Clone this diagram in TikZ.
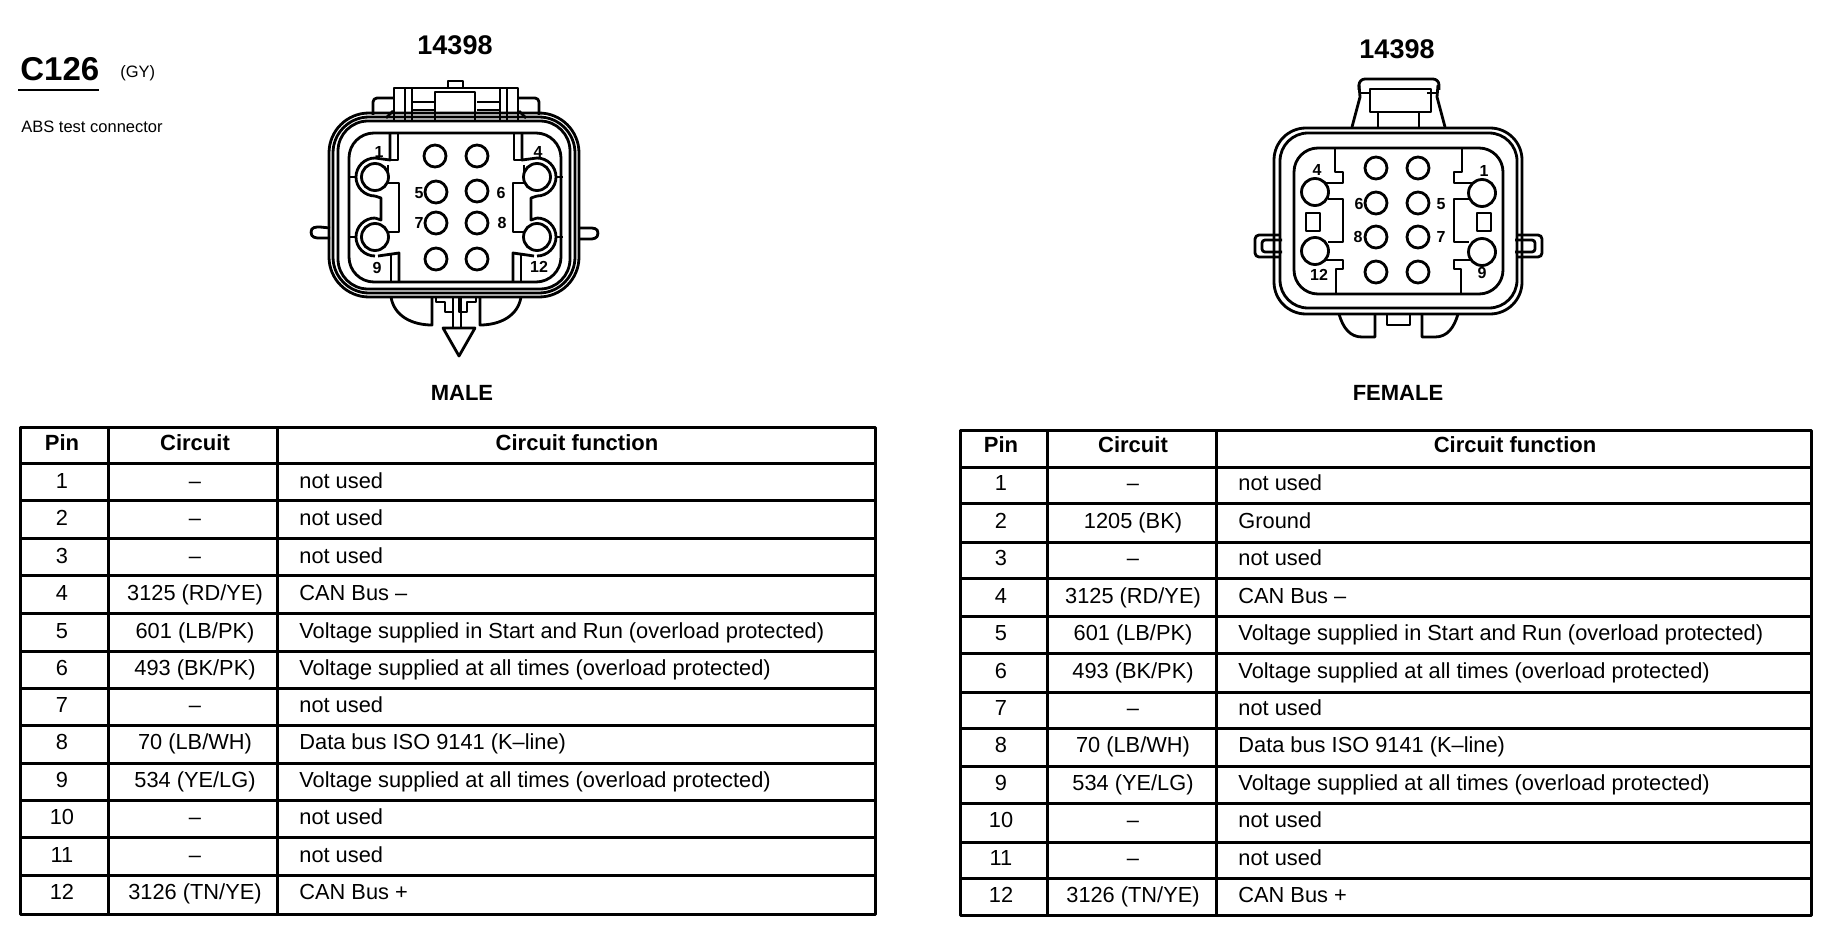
\documentclass[tikz,border=0pt]{standalone}
\usepackage{fontspec}
\setmainfont{Liberation Sans}

\newcommand{\tablerow}[6]{%
    \node[pincell] (#1p#2) at (#3) {#2};
    \node[circuitcell] (#1c#2) at (#4) {#5};
    \node[functioncell] (#1f#2) at (#6) {\rowtext};
}

% one half of each housing, the other half comes from the mirror
\newcommand{\maleshell}{%
    \draw (390,134) -- (390,160) -- (375,158);
    \draw (398,134) -- (398,160) -- (390,160);
    \draw (375,158) arc (-90:-270:19);
    \draw (349,177) -- (356,177);
    \draw (349,237) -- (356,237);
    \draw (388,165) -- (388,183) -- (399,183) -- (399,232) -- (388,232);
    \draw (375,196) -- (381,198) -- (381,220) -- (375,218);
    \draw (375,218) arc (-90:-270:19);
    \draw (378,256) -- (399,253) -- (399,281);
    \draw (391,253) -- (391,281);
    \draw[rounded corners=4pt] (373,115) -- (373,98) -- (394,98);
    \draw (393,111) -- (386,118);
    \draw (405,88) -- (405,120);
    \draw (412,88) -- (412,120);
    \draw (412,102) -- (435,102);
    \draw (412,110) -- (435,110);
    \draw (412,117) -- (435,117);
    \draw (391,297) .. controls (394,316) and (412,325) .. (432,325) -- (432,298);
    \draw (436,297) -- (436,302) -- (445,302) -- (445,312) -- (453,312) -- (453,297);
}
\newcommand{\femaleshell}{%
    \draw (1335,148) -- (1335,172) -- (1343,172) -- (1343,183) -- (1323,183);
    \draw (1328,199) -- (1343,199) -- (1343,242) -- (1328,242);
    \draw (1323,260) -- (1343,260) -- (1343,269) -- (1336,269) -- (1336,293);
    \draw (1352,127) -- (1360,97) -- (1359,85);
    \draw (1360,93) -- (1370,93);
    \draw (1378,112) -- (1378,127);
    \draw[rounded corners=4pt] (1280,235) -- (1255,235) -- (1255,257) -- (1280,257);
    \draw[rounded corners=3pt] (1282,240) -- (1262,240) -- (1262,252) -- (1282,252);
    \draw (1339,314) .. controls (1343,328) and (1350,337) .. (1362,337) -- (1375,337) -- (1375,315);
}

\begin{document}
\begin{tikzpicture}[x=1pt, y=-1pt, line width=2.8pt, line join=round]
    \tikzset{
        pincell/.style={font=\fontsize{21.8}{21.8}\selectfont, text height=15pt, text depth=0pt, inner sep=0pt},
        circuitcell/.style={pincell},
        functioncell/.style={pincell, anchor=west},
        headcell/.style={pincell, font=\fontsize{22}{22}\selectfont\bfseries},
        title/.style={font=\fontsize{27}{27}\selectfont\bfseries, inner sep=0pt},
        sidelabel/.style={font=\fontsize{22}{22}\selectfont\bfseries, inner sep=0pt},
        pinnum/.style={font=\fontsize{16}{16}\selectfont\bfseries, inner sep=0pt},
        smallpin/.style={circle, draw, minimum size=22pt, inner sep=0pt},
        bigpin/.style={circle, draw, fill=white, minimum size=27pt, inner sep=0pt},
        rowline/.style={line width=3pt}
    }
    \useasboundingbox (0,0) rectangle (1830,928);

    % heading
    \node[font=\fontsize{33}{33}\selectfont\bfseries, inner sep=0pt, anchor=west] (code) at (19,69) {C126};
    \node[font=\fontsize{16.5}{16.5}\selectfont, inner sep=0pt, anchor=west] (colour) at (119,73) {(GY)};
    \node[font=\fontsize{16.5}{16.5}\selectfont, inner sep=0pt, anchor=west] (name) at (20,127) {ABS test connector};
    \draw (18,90) -- (99,90);

    \node[title] (maleno) at (455,45) {14398};
    \node[title] (femaleno) at (1397,49) {14398};
    \node[sidelabel] (malelabel) at (462,393) {MALE};
    \node[sidelabel] (femalelabel) at (1398,393) {FEMALE};

    % male housing
    \draw[rounded corners=40pt] (329,113) rectangle (579,297);
    \draw[rounded corners=36pt] (333,117) rectangle (575,293);
    \draw[rounded corners=30pt] (338,121) rectangle (570,289);
    \draw[rounded corners=25pt] (349,133) rectangle (561,282);
    \maleshell
    \begin{scope}[xshift=912pt, xscale=-1]
        \maleshell
    \end{scope}
    \draw (394,120) -- (394,88) -- (518,88) -- (518,120);
    \draw (435,120) -- (435,92) -- (475,92) -- (475,120);
    \draw (448,88) -- (448,81) -- (463,81) -- (463,88);
    \draw (311,232) .. controls (311,227) and (316,227) .. (320,227) -- (330,228);
    \draw (311,232) .. controls (311,238) and (316,238) .. (320,238) -- (330,238);
    \draw (598,233) .. controls (598,228) and (593,228) .. (589,228) -- (578,228);
    \draw (598,233) .. controls (598,239) and (593,239) .. (589,239) -- (578,239);
    \draw (461,297) -- (461,327);
    \draw (443,328) -- (475,328) -- (459,356) -- cycle;
    \draw (453,312) -- (453,328);

    \node[smallpin] (mpa) at (435,156) {};
    \node[smallpin] (mpb) at (477,156) {};
    \node[smallpin] (mpc) at (436,192) {};
    \node[smallpin] (mpd) at (477,191) {};
    \node[smallpin] (mpe) at (436,223) {};
    \node[smallpin] (mpf) at (477,223) {};
    \node[smallpin] (mpg) at (436,259) {};
    \node[smallpin] (mph) at (477,259) {};
    \node[bigpin] (mpi) at (375,177) {};
    \node[bigpin] (mpj) at (375,237) {};
    \node[bigpin] (mpk) at (537,177) {};
    \node[bigpin] (mpl) at (537,237) {};
    \node[pinnum] (mn1) at (379,152) {1};
    \node[pinnum] (mn4) at (538,152) {4};
    \node[pinnum] (mn5) at (419,193) {5};
    \node[pinnum] (mn6) at (501,193) {6};
    \node[pinnum] (mn7) at (419,223) {7};
    \node[pinnum] (mn8) at (502,223) {8};
    \node[pinnum] (mn9) at (377,268) {9};
    \node[pinnum] (mn12) at (539,267) {12};

    % female housing
    \draw[rounded corners=32pt] (1274,128) rectangle (1522,314);
    \draw[rounded corners=28pt] (1280,133) rectangle (1517,308);
    \draw[rounded corners=24pt] (1294,148) rectangle (1503,294);
    \femaleshell
    \begin{scope}[xshift=2797pt, xscale=-1]
        \femaleshell
    \end{scope}
    \draw[rounded corners=6pt] (1359,90) -- (1359,79) -- (1439,79) -- (1439,90);
    \draw (1370,89) rectangle (1431,112);
    \draw (1387,315) -- (1387,325) -- (1410,325) -- (1410,315);
    \draw (1306,213) rectangle (1320,231);
    \draw (1477,213) rectangle (1491,231);

    \node[smallpin] (fpa) at (1376,168) {};
    \node[smallpin] (fpb) at (1418,168) {};
    \node[smallpin] (fpc) at (1376,203) {};
    \node[smallpin] (fpd) at (1418,203) {};
    \node[smallpin] (fpe) at (1376,237) {};
    \node[smallpin] (fpf) at (1418,237) {};
    \node[smallpin] (fpg) at (1376,272) {};
    \node[smallpin] (fph) at (1418,272) {};
    \node[bigpin] (fpi) at (1315,192) {};
    \node[bigpin] (fpj) at (1315,251) {};
    \node[bigpin] (fpk) at (1482,193) {};
    \node[bigpin] (fpl) at (1482,252) {};
    \node[pinnum] (fn4) at (1317,170) {4};
    \node[pinnum] (fn1) at (1484,171) {1};
    \node[pinnum] (fn6) at (1359,204) {6};
    \node[pinnum] (fn5) at (1441,204) {5};
    \node[pinnum] (fn8) at (1358,237) {8};
    \node[pinnum] (fn7) at (1441,237) {7};
    \node[pinnum] (fn12) at (1319,275) {12};
    \node[pinnum] (fn9) at (1482,273) {9};

    % male table
    \draw[rowline] (20,427) rectangle (875,914);
    \draw[rowline] (108,427) -- (108,914);
    \draw[rowline] (277,427) -- (277,914);
    \foreach \yrow in {463,500,538,575,613,651,688,725,763,800,837,875}
        \draw[rowline] (20,\yrow) -- (875,\yrow);
    \node[headcell] (mh1) at (62,443) {Pin};
    \node[headcell] (mh2) at (195,443) {Circuit};
    \node[headcell] (mh3) at (577,443) {Circuit function};

    \def\rowtext{not used}
    \tablerow{m}{1}{62,481}{195,481}{--}{298,481}
    \tablerow{m}{2}{62,518}{195,518}{--}{298,518}
    \tablerow{m}{3}{62,556}{195,556}{--}{298,556}
    \def\rowtext{CAN Bus --}
    \tablerow{m}{4}{62,593}{195,593}{3125 (RD/YE)}{298,593}
    \def\rowtext{Voltage supplied in Start and Run (overload protected)}
    \tablerow{m}{5}{62,631}{195,631}{601 (LB/PK)}{298,631}
    \def\rowtext{Voltage supplied at all times (overload protected)}
    \tablerow{m}{6}{62,668}{195,668}{493 (BK/PK)}{298,668}
    \def\rowtext{not used}
    \tablerow{m}{7}{62,705}{195,705}{--}{298,705}
    \def\rowtext{Data bus ISO 9141 (K--line)}
    \tablerow{m}{8}{62,742}{195,742}{70 (LB/WH)}{298,742}
    \def\rowtext{Voltage supplied at all times (overload protected)}
    \tablerow{m}{9}{62,780}{195,780}{534 (YE/LG)}{298,780}
    \def\rowtext{not used}
    \tablerow{m}{10}{62,817}{195,817}{--}{298,817}
    \tablerow{m}{11}{62,855}{195,855}{--}{298,855}
    \def\rowtext{CAN Bus +}
    \tablerow{m}{12}{62,892}{195,892}{3126 (TN/YE)}{298,892}

    % female table
    \draw[rowline] (960,430) rectangle (1811,915);
    \draw[rowline] (1047,430) -- (1047,915);
    \draw[rowline] (1216,430) -- (1216,915);
    \foreach \yrow in {467,503,542,578,616,653,692,728,766,803,842,878}
        \draw[rowline] (960,\yrow) -- (1811,\yrow);
    \node[headcell] (fh1) at (1001,445) {Pin};
    \node[headcell] (fh2) at (1133,445) {Circuit};
    \node[headcell] (fh3) at (1515,445) {Circuit function};

    \def\rowtext{not used}
    \tablerow{f}{1}{1001,483}{1133,483}{--}{1237,483}
    \def\rowtext{Ground}
    \tablerow{f}{2}{1001,521}{1133,521}{1205 (BK)}{1237,521}
    \def\rowtext{not used}
    \tablerow{f}{3}{1001,558}{1133,558}{--}{1237,558}
    \def\rowtext{CAN Bus --}
    \tablerow{f}{4}{1001,596}{1133,596}{3125 (RD/YE)}{1237,596}
    \def\rowtext{Voltage supplied in Start and Run (overload protected)}
    \tablerow{f}{5}{1001,633}{1133,633}{601 (LB/PK)}{1237,633}
    \def\rowtext{Voltage supplied at all times (overload protected)}
    \tablerow{f}{6}{1001,671}{1133,671}{493 (BK/PK)}{1237,671}
    \def\rowtext{not used}
    \tablerow{f}{7}{1001,708}{1133,708}{--}{1237,708}
    \def\rowtext{Data bus ISO 9141 (K--line)}
    \tablerow{f}{8}{1001,745}{1133,745}{70 (LB/WH)}{1237,745}
    \def\rowtext{Voltage supplied at all times (overload protected)}
    \tablerow{f}{9}{1001,783}{1133,783}{534 (YE/LG)}{1237,783}
    \def\rowtext{not used}
    \tablerow{f}{10}{1001,820}{1133,820}{--}{1237,820}
    \tablerow{f}{11}{1001,858}{1133,858}{--}{1237,858}
    \def\rowtext{CAN Bus +}
    \tablerow{f}{12}{1001,895}{1133,895}{3126 (TN/YE)}{1237,895}
\end{tikzpicture}
\end{document}
